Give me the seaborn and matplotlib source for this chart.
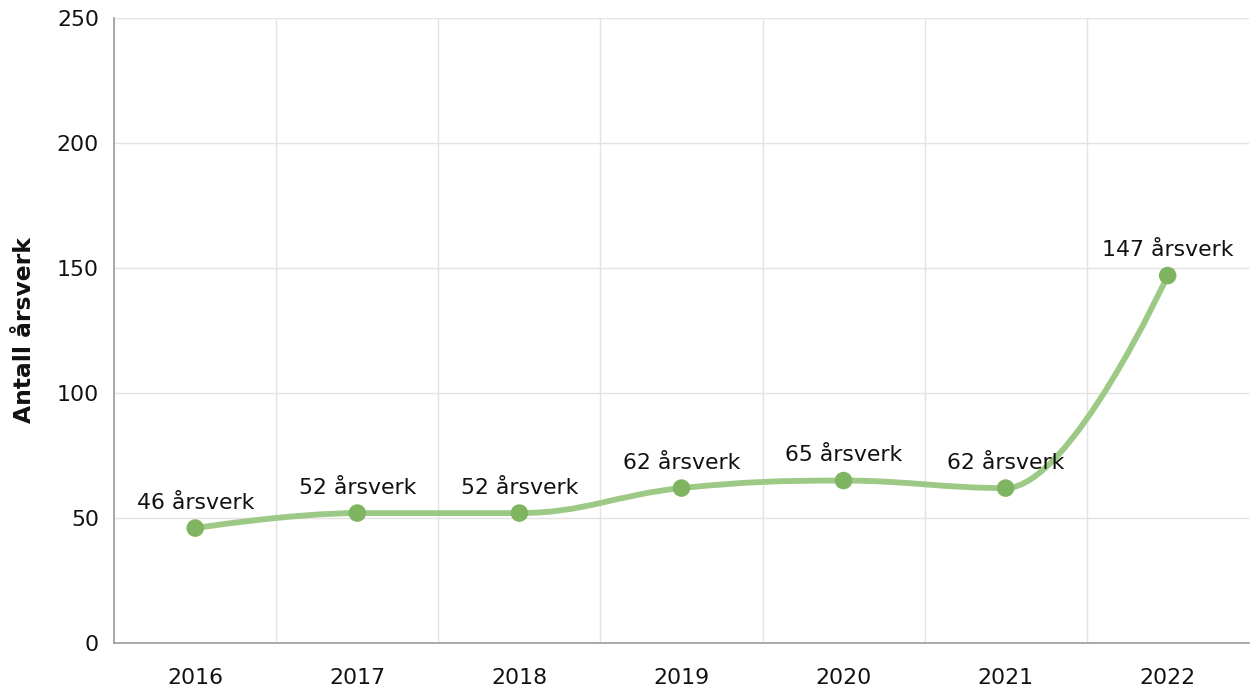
import numpy as np
import pandas as pd
import seaborn as sns
import matplotlib.pyplot as plt
from matplotlib.path import Path
from matplotlib.patches import PathPatch

years = ["2016", "2017", "2018", "2019", "2020", "2021", "2022"]
values = [46, 52, 52, 62, 65, 62, 147]
labels = ["46 årsverk", "52 årsverk", "52 årsverk", "62 årsverk",
          "65 årsverk", "62 årsverk", "147 årsverk"]
y_ticks = [0, 50, 100, 150, 200, 250]

LINE_COLOR = "#9dc986"
MARKER_COLOR = "#7fb560"
GRID_COLOR = "#e3e3e3"
AXIS_COLOR = "#9a9a9a"

sns.set_style("white")
plt.rcParams["font.family"] = ["DejaVu Sans"]


def spline_path(xs, ys, smoothing=1.5):
    # Highcharts-style spline: cubic bezier through the points
    denom = smoothing + 1
    n = len(xs)
    left = [(x, y) for x, y in zip(xs, ys)]
    right = [(x, y) for x, y in zip(xs, ys)]
    for i in range(1, n - 1):
        px, py = xs[i], ys[i]
        lx, ly = xs[i - 1], ys[i - 1]
        nx, ny = xs[i + 1], ys[i + 1]
        lcx = (smoothing * px + lx) / denom
        lcy = (smoothing * py + ly) / denom
        rcx = (smoothing * px + nx) / denom
        rcy = (smoothing * py + ny) / denom
        if rcx != lcx:
            corr = (rcy - lcy) * (rcx - px) / (rcx - lcx) + py - rcy
            lcy += corr
            rcy += corr
        if lcy > ly and lcy > py:
            lcy = max(ly, py)
            rcy = 2 * py - lcy
        elif lcy < ly and lcy < py:
            lcy = min(ly, py)
            rcy = 2 * py - lcy
        if rcy > ny and rcy > py:
            rcy = max(ny, py)
            lcy = 2 * py - rcy
        elif rcy < ny and rcy < py:
            rcy = min(ny, py)
            lcy = 2 * py - rcy
        left[i] = (lcx, lcy)
        right[i] = (rcx, rcy)
    verts = [(xs[0], ys[0])]
    codes = [Path.MOVETO]
    for i in range(1, n):
        verts += [right[i - 1], left[i], (xs[i], ys[i])]
        codes += [Path.CURVE4] * 3
    return Path(verts, codes)


df = pd.DataFrame({"pos": np.arange(len(years)), "value": values})

fig, ax = plt.subplots(figsize=(12.55, 6.93), dpi=100)
fig.subplots_adjust(left=0.091, right=0.995, top=0.974, bottom=0.072)

# vertical grid at category boundaries
for b in np.arange(0.5, len(years) - 1, 1.0):
    ax.axvline(b, color=GRID_COLOR, lw=1, zorder=0)
for t in y_ticks[1:]:
    ax.axhline(t, color=GRID_COLOR, lw=1, zorder=0)

patch = PathPatch(spline_path(df["pos"].tolist(), df["value"].tolist()),
                  facecolor="none", edgecolor=LINE_COLOR, lw=4.2,
                  capstyle="round", joinstyle="round", zorder=2)
ax.add_patch(patch)

sns.scatterplot(data=df, x="pos", y="value", ax=ax, s=160,
                color=MARKER_COLOR, edgecolor="none", zorder=3)

for x, y, lab in zip(df["pos"], df["value"], labels):
    ax.annotate(lab, (x, y), xytext=(0, 11), textcoords="offset points",
                ha="center", va="bottom", fontsize=15.8, color="#111111")

ax.set_xlim(-0.5, len(years) - 0.5)
ax.set_ylim(0, 250)
ax.set_xticks(df["pos"])
ax.set_xticklabels(years)
ax.set_yticks(y_ticks)
ax.tick_params(axis="both", labelsize=15.8, colors=AXIS_COLOR,
               labelcolor="#111111", length=7, width=1, direction="out")
ax.tick_params(axis="x", pad=11)
ax.tick_params(axis="y", pad=4)
ax.set_xlabel("")
ax.set_ylabel("Antall årsverk", fontsize=16.8, fontweight="bold",
              labelpad=15, color="#111111")

sns.despine(ax=ax)
for side in ["left", "bottom"]:
    ax.spines[side].set_color(AXIS_COLOR)
    ax.spines[side].set_linewidth(1.2)

fig.savefig("out.png", dpi=100)
